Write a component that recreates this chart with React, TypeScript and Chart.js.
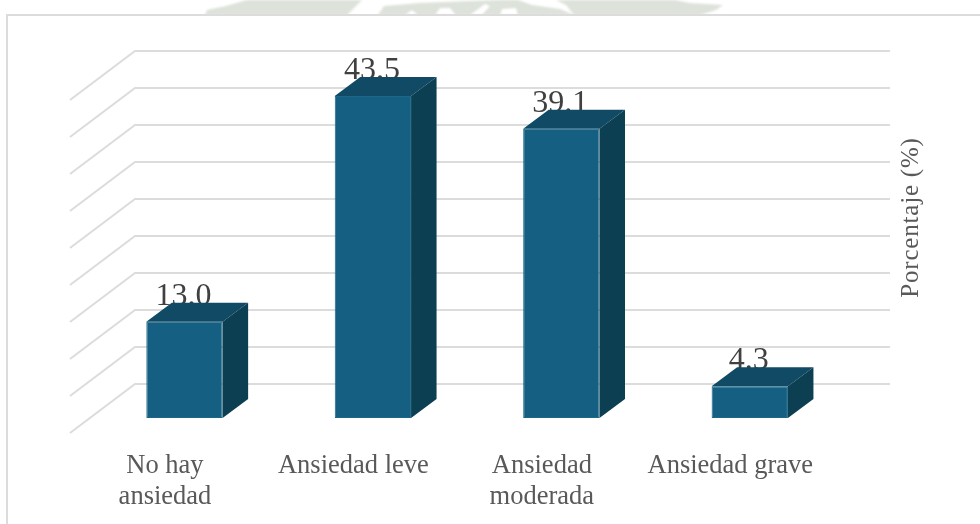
import React, { useEffect, useRef } from "react";
import { Chart, registerables } from "chart.js";

Chart.register(...registerables);

const categories = [["No hay", "ansiedad"], "Ansiedad leve", ["Ansiedad", "moderada"], "Ansiedad grave"];
const percentages = [13.0, 43.5, 39.1, 4.3];
const axisMin = 0;
const axisMax = 45;
const axisStep = 5;
const axisTitle = "Porcentaje (%)";

const SERIF = '"Liberation Serif", "Times New Roman", serif';
const FRONT = "#156082";
const TOP = "#104a65";
const SIDE = "#0d3f52";
const GRID = "#dcdcdc";

// Projection of the box: how far the depth edge runs from the front plane.
const DEPTH_X = 25.5;
const DEPTH_Y = -19;
// Wall and floor offsets of the grid, relative to the front plane of the bars.
const WALL_DY = -34;
const FLOOR_DY = 15;
const WALL_LEFT = 135;
const WALL_RIGHT = 890;
const FLOOR_LEFT = 70;

// Faded crest that sticks out above the frame, behind the white panel.
const crestBands = [
  [[205, 15], [207, 10], [226, 6], [247, 0], [362, 0], [347, 15]],
  [[378, 15], [384, 6], [420, 3], [470, 1], [500, 0], [518, 0], [532, 5], [560, 9], [574, 15]],
  [[574, 15], [566, 5], [556, 0], [675, 0], [690, 3], [723, 5], [716, 10], [700, 15]],
];
const crestGaps = [
  [[405, 15], [412, 10], [418, 15]],
  [[435, 15], [440, 8], [450, 8], [456, 15]],
  [[470, 15], [485, 4], [490, 6], [482, 15]],
  [[500, 15], [502, 9], [516, 8], [518, 15]],
];

const tracePath = (ctx: CanvasRenderingContext2D, pts: number[][]) => {
  ctx.beginPath();
  pts.forEach(([x, y], i) => (i ? ctx.lineTo(x, y) : ctx.moveTo(x, y)));
  ctx.closePath();
  ctx.fill();
};

const panelPlugin = {
  id: "panel",
  beforeDraw(chart: Chart) {
    const { ctx, width, height } = chart;
    ctx.save();
    ctx.fillStyle = "#ffffff";
    ctx.fillRect(0, 0, width, height);
    ctx.filter = "blur(1px)";
    ctx.fillStyle = "#dde2da";
    crestBands.forEach((p) => tracePath(ctx, p));
    ctx.fillStyle = "#ffffff";
    crestGaps.forEach((p) => tracePath(ctx, p));
    ctx.filter = "none";
    ctx.fillStyle = "#ffffff";
    ctx.fillRect(7, 15, width, height);
    ctx.strokeStyle = GRID;
    ctx.lineWidth = 2;
    ctx.beginPath();
    ctx.moveTo(7, height);
    ctx.lineTo(7, 15);
    ctx.lineTo(width, 15);
    ctx.stroke();
    ctx.restore();
  },
};

const wallsPlugin = {
  id: "walls",
  beforeDatasetsDraw(chart: Chart) {
    const { ctx, scales } = chart;
    const y = scales.y;
    ctx.save();
    ctx.strokeStyle = GRID;
    ctx.lineWidth = 2;
    y.ticks.forEach((t: { value: number }) => {
      const py = y.getPixelForValue(t.value);
      ctx.beginPath();
      ctx.moveTo(FLOOR_LEFT, py + FLOOR_DY);
      ctx.lineTo(WALL_LEFT, py + WALL_DY);
      ctx.lineTo(WALL_RIGHT, py + WALL_DY);
      ctx.stroke();
    });

    // Value labels sit behind the box tops, which overlap their lower edge.
    ctx.fillStyle = "#404040";
    ctx.font = `32px ${SERIF}`;
    ctx.textAlign = "center";
    ctx.textBaseline = "alphabetic";
    chart.getDatasetMeta(0).data.forEach((bar: any, i: number) => {
      const value = chart.data.datasets[0].data[i] as number;
      ctx.fillText(value.toFixed(1), bar.x - 1, bar.y + DEPTH_Y + 2);
    });

    // Rotated axis caption on the right-hand side.
    ctx.translate(918, 217.5);
    ctx.rotate(-Math.PI / 2);
    ctx.fillStyle = "#595959";
    ctx.font = `25px ${SERIF}`;
    (ctx as any).letterSpacing = "0.8px";
    ctx.textAlign = "center";
    ctx.fillText(axisTitle, 0, 0);
    ctx.restore();
  },
};

const boxFacesPlugin = {
  id: "boxFaces",
  afterDatasetsDraw(chart: Chart) {
    const { ctx } = chart;
    ctx.save();
    chart.getDatasetMeta(0).data.forEach((bar: any) => {
      const left = bar.x - bar.width / 2;
      const right = bar.x + bar.width / 2;
      const top = bar.y;
      const bottom = bar.base;
      ctx.fillStyle = TOP;
      tracePath(ctx, [
        [left, top],
        [left + DEPTH_X, top + DEPTH_Y],
        [right + DEPTH_X, top + DEPTH_Y],
        [right, top],
      ]);
      ctx.fillStyle = SIDE;
      tracePath(ctx, [
        [right, top],
        [right + DEPTH_X, top + DEPTH_Y],
        [right + DEPTH_X, bottom + DEPTH_Y],
        [right, bottom],
      ]);
    });
    ctx.restore();
  },
};

export default function App() {
  const ref = useRef<HTMLCanvasElement>(null);

  useEffect(() => {
    document.body.style.margin = "0";
    const chart = new Chart(ref.current!, {
      type: "bar",
      data: {
        labels: categories as any,
        datasets: [
          {
            data: percentages,
            backgroundColor: FRONT,
            borderColor: "#196888",
            borderWidth: 1,
            borderSkipped: false,
            barPercentage: 1,
            categoryPercentage: 0.405,
          },
        ],
      },
      options: {
        responsive: false,
        animation: false,
        layout: { padding: { left: 90.25, right: 136, top: 85, bottom: 0 } },
        plugins: { legend: { display: false }, tooltip: { enabled: false }, title: { display: false } },
        scales: {
          x: {
            grid: { display: false, drawTicks: false },
            border: { display: false },
            afterFit: (s: any) => {
              s.height = 106;
            },
            ticks: {
              color: "#595959",
              font: { family: SERIF, size: 26.5, lineHeight: 1.16 },
              padding: 33,
              labelOffset: -19.5,
              maxRotation: 0,
              autoSkip: false,
            },
          },
          y: {
            position: "left",
            min: axisMin,
            max: axisMax,
            afterFit: (s: any) => {
              s.width = 0;
            },
            grid: { display: false, drawTicks: false },
            border: { display: false },
            ticks: { display: false, stepSize: axisStep },
          },
        },
      },
      plugins: [panelPlugin, wallsPlugin, boxFacesPlugin],
    });
    return () => chart.destroy();
  }, []);

  return <canvas ref={ref} width={980} height={524} style={{ display: "block" }} />;
}
